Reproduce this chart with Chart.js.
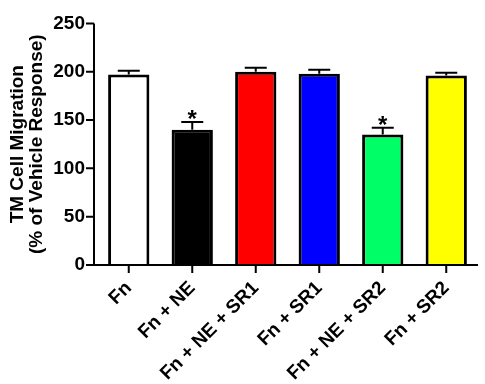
<!DOCTYPE html>
<html>
<head>
<meta charset="utf-8">
<script src="https://cdn.jsdelivr.net/npm/chart.js@4.4.1/dist/chart.umd.min.js"></script>
<style>
  html, body { margin: 0; padding: 0; background: #fff; }
  #wrap { width: 485px; height: 384px; }
</style>
</head>
<body>
<div id="wrap"><canvas id="migrationChart"></canvas></div>
<script>
const categories = ['Fn', 'Fn + NE', 'Fn + NE + SR1', 'Fn + SR1', 'Fn + NE + SR2', 'Fn + SR2'];
const migration = [197, 140, 200, 198, 135, 196];
const sem = [4, 8, 4, 4, 7, 3];
const significant = [false, true, false, false, true, false];
const yTicks = [0, 50, 100, 150, 200, 250];
const barColors = ['#ffffff', '#000000', '#ff0000', '#0000ff', '#00ff66', '#ffff00'];

const fontFamily = '"Liberation Sans", Arial, sans-serif';

// error bars, asterisks and the axis lines (drawn after the bars)
const prismPlugin = {
    id: 'prism',
    afterDatasetsDraw(chart) {
        const ctx = chart.ctx;
        const x = chart.scales.x;
        const y = chart.scales.y;
        const area = chart.chartArea;
        const bars = chart.getDatasetMeta(0).data;
        ctx.save();
        ctx.strokeStyle = '#000';
        ctx.fillStyle = '#000';
        ctx.lineWidth = 2;
        bars.forEach((bar, i) => {
            const top = y.getPixelForValue(migration[i] + sem[i]);
            ctx.beginPath();
            ctx.moveTo(bar.x, bar.y);
            ctx.lineTo(bar.x, top);
            ctx.moveTo(bar.x - 11, top);
            ctx.lineTo(bar.x + 11, top);
            ctx.stroke();
            if (significant[i]) {
                ctx.font = 'bold 24px ' + fontFamily;
                ctx.textAlign = 'center';
                ctx.fillText('*', bar.x, top + 5);
            }
        });

        const axisX = area.left - 3;
        ctx.beginPath();
        ctx.moveTo(axisX, area.top);
        ctx.lineTo(axisX, area.bottom);
        yTicks.forEach(v => {
            const py = y.getPixelForValue(v);
            ctx.moveTo(axisX - 8, py);
            ctx.lineTo(axisX, py);
        });
        ctx.moveTo(axisX - 1, area.bottom);
        ctx.lineTo(area.right, area.bottom);
        categories.forEach((c, i) => {
            const px = x.getPixelForValue(i);
            ctx.moveTo(px, area.bottom);
            ctx.lineTo(px, area.bottom + 8);
        });
        ctx.stroke();
        ctx.restore();
    }
};

const ctx = document.getElementById('migrationChart').getContext('2d');
new Chart(ctx, {
    type: 'bar',
    data: {
        labels: categories,
        datasets: [{
            data: migration,
            backgroundColor: barColors,
            borderColor: '#000',
            borderWidth: 3,
            barPercentage: 0.65,
            categoryPercentage: 1
        }]
    },
    options: {
        responsive: true,
        maintainAspectRatio: false,
        animation: false,
        layout: { padding: { top: 15, right: 7, left: 0, bottom: 0 } },
        plugins: {
            legend: { display: false },
            tooltip: { enabled: false }
        },
        scales: {
            x: {
                grid: { display: false, drawTicks: false },
                border: { display: false },
                ticks: {
                    color: '#000',
                    font: { family: fontFamily, size: 19, weight: 'bold' },
                    maxRotation: 45,
                    minRotation: 45,
                    padding: 12
                },
                afterFit(scale) { scale.height = 119; }
            },
            y: {
                min: 0,
                max: 250,
                grid: { display: false, drawTicks: false },
                border: { display: false },
                ticks: {
                    stepSize: 50,
                    color: '#000',
                    font: { family: fontFamily, size: 19, weight: 'bold' },
                    padding: 12
                },
                title: {
                    display: true,
                    text: ['TM Cell Migration', '(% of Vehicle Response)'],
                    color: '#000',
                    font: { family: fontFamily, size: 19, weight: 'bold', lineHeight: 1.0 },
                    padding: { top: 8, bottom: 0 }
                },
                afterFit(scale) { scale.width = 97; }
            }
        }
    },
    plugins: [prismPlugin]
});
</script>
</body>
</html>
